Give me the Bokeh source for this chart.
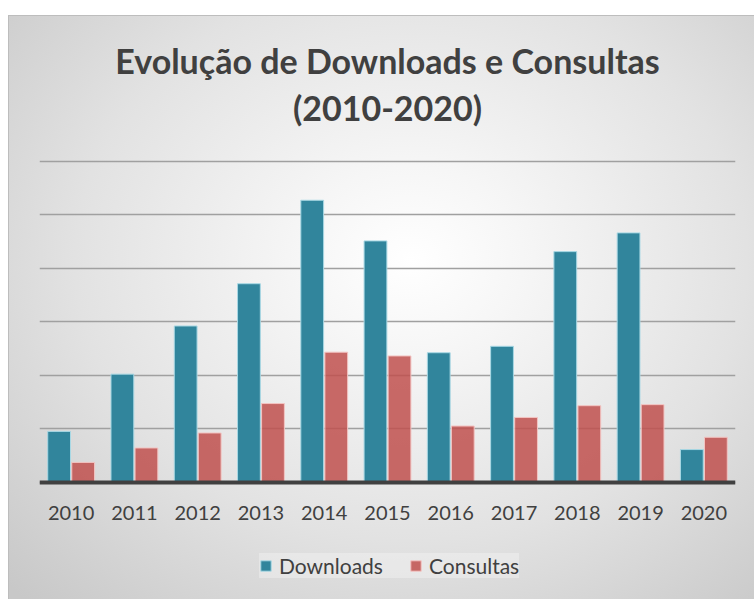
from bokeh.plotting import figure
from bokeh.models import (ColumnDataSource, FactorRange, Range1d, Label, Legend, LegendItem,
                          SingleIntervalTicker, Spacer)
from bokeh.layouts import column, row
from bokeh.transform import dodge
from bokeh.embed import file_html
from bokeh.resources import INLINE

# ---- data (gridline step = 100) ----
years = ["2010", "2011", "2012", "2013", "2014", "2015", "2016", "2017", "2018", "2019", "2020"]
downloads = [95, 202, 292, 371, 527, 451, 242, 254, 431, 466, 61]
consultas = [37, 64, 92, 147, 243, 236, 105, 121, 143, 145, 84]
series_names = ["Downloads", "Consultas"]
title_line1 = "Evolução de Downloads e Consultas"
title_line2 = "(2010-2020)"
grid_top = 600

src = ColumnDataSource(dict(year=years, downloads=downloads, consultas=consultas))

W, H = 746, 584
FL, FW = 31, 696
# vertical scale: 0 -> 466.7 px from top, 600 -> 145.7 px from top
PX_PER_UNIT = 321 / 600.0
y_top = 466.7 / PX_PER_UNIT
y_bot = -(H - 466.7) / PX_PER_UNIT

p = figure(x_range=FactorRange(*years, range_padding=0), y_range=Range1d(y_bot, y_top),
           width=W, height=H, output_backend="svg", toolbar_location=None,
           min_border_left=FL, min_border_right=W - FL - FW,
           min_border_top=0, min_border_bottom=0,
           styles={"background": "radial-gradient(ellipse 75% 80% at 54% 42%, #ffffff 0%, #f6f6f6 20%, #e2e2e2 60%, #c8c8c8 100%)",
                   "box-shadow": "inset 1px 1px 0 #bdbdbd"})
p.border_fill_color = None
p.background_fill_color = None
p.outline_line_color = None

p.xgrid.grid_line_color = None
p.ygrid.ticker = SingleIntervalTicker(interval=100)
p.ygrid.bounds = (0, grid_top)
p.ygrid.grid_line_color = "#a0a0a0"
p.ygrid.grid_line_width = 1.5
p.yaxis.visible = False

xa = p.xaxis[0]
xa.fixed_location = 0
xa.axis_line_color = "#404040"
xa.axis_line_width = 4
xa.major_tick_line_color = None
xa.minor_tick_line_color = None
xa.major_tick_out = 0
xa.major_tick_in = 0
xa.major_label_text_font = "Lato"
xa.major_label_text_font_size = "20px"
xa.major_label_text_color = "#404040"
xa.major_label_standoff = 24

r1 = p.vbar(x=dodge("year", -0.19, range=p.x_range), top="downloads", width=0.36, source=src,
            fill_color="#31859C", line_color="#a8d8e4", line_width=1)
r2 = p.vbar(x=dodge("year", 0.19, range=p.x_range), top="consultas", width=0.36, source=src,
            fill_color="#C0504D", fill_alpha=0.85, line_color="#f3c4c2", line_width=1)

legend = Legend(items=[LegendItem(label=series_names[0], renderers=[r1]),
                       LegendItem(label=series_names[1], renderers=[r2])],
                orientation="horizontal", location=(220, 21),
                glyph_width=13, glyph_height=13, label_standoff=7, spacing=26,
                padding=10, margin=0,
                label_text_font="Lato", label_text_font_size="21px", label_text_color="#404040",
                background_fill_color="white", background_fill_alpha=0.3,
                border_line_color=None)
p.add_layout(legend, "center")

t1 = Label(x=FW / 2, y=(466.7 - 44.5) / PX_PER_UNIT, x_units="screen", y_units="data", text=title_line1,
           text_align="center", text_baseline="alphabetic", text_font="Lato",
           text_font_style="bold", text_font_size="34px", text_color="#404040")
t2 = Label(x=FW / 2, y=(466.7 - 92) / PX_PER_UNIT, x_units="screen", y_units="data", text=title_line2,
           text_align="center", text_baseline="alphabetic", text_font="Lato",
           text_font_style="bold", text_font_size="34px", text_color="#404040")
p.add_layout(t1)
p.add_layout(t2)

layout = column(Spacer(height=15, width=W + 8), row(Spacer(width=8, height=H), p))
open("out.html", "w").write(file_html(layout, INLINE))
